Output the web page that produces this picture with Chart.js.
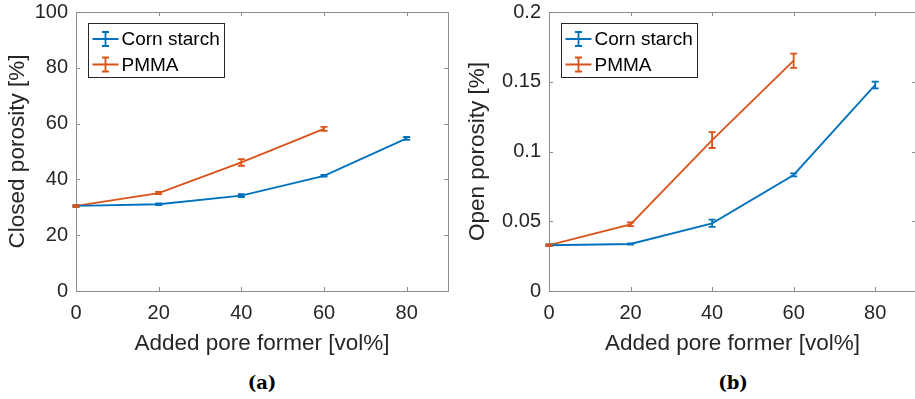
<!DOCTYPE html>
<html>
<head>
<meta charset="utf-8">
<script src="https://cdn.jsdelivr.net/npm/chart.js@4/dist/chart.umd.min.js"></script>
<style>
  html, body { margin: 0; padding: 0; background: #fff; overflow: hidden; }
  body { width: 915px; height: 399px; position: relative; }
  .panel { position: absolute; top: 0; height: 360px; }
  .cap { position: absolute; top: 372px; font: bold 18px "DejaVu Serif", serif; color: #000; transform: translateX(-50%); }
</style>
</head>
<body>
<div class="panel" style="left:0;width:460px"><canvas id="closedChart"></canvas></div>
<div class="panel" style="left:460px;width:458px"><canvas id="openChart"></canvas></div>
<div class="cap" style="left:262px">(a)</div>
<div class="cap" style="left:733px">(b)</div>
<script>
// ---- data ----
const poreFormer = [0, 20, 40, 60, 80];          // vol%
const seriesNames = ['Corn starch', 'PMMA'];

const closedCorn    = [30.5, 31.1, 34.2, 41.3, 54.7];
const closedCornErr = [0.3, 0.3, 0.5, 0.3, 0.5];
const closedPmma    = [30.5, 35.1, 46.1, 58.1];
const closedPmmaErr = [0.3, 0.4, 1.2, 0.7];

const openCorn    = [0.0328, 0.0337, 0.0485, 0.0832, 0.1477];
const openCornErr = [0.0006, 0.0004, 0.0026, 0.0011, 0.0024];
const openPmma    = [0.0328, 0.0478, 0.1082, 0.1651];
const openPmmaErr = [0.0006, 0.0013, 0.0057, 0.0051];

const BLUE = '#0072BD';
const ORANGE = '#D95319';
const TXT = '#262626';
const FONT = "'Liberation Sans', Arial, sans-serif";

function pts(ys) {
    return ys.map((y, i) => ({ x: poreFormer[i], y: y }));
}

// draws the error bars with the chart's own scales
const errorBars = {
    id: 'errorBars',
    afterDatasetsDraw(chart) {
        const ctx = chart.ctx;
        const xs = chart.scales.x, ys = chart.scales.y;
        chart.data.datasets.forEach(ds => {
            if (!ds.errors) return;
            ctx.save();
            ctx.strokeStyle = ds.borderColor;
            ctx.lineWidth = 1.8;
            ds.data.forEach((p, i) => {
                const e = ds.errors[i];
                const px = xs.getPixelForValue(p.x);
                const y1 = ys.getPixelForValue(p.y - e);
                const y2 = ys.getPixelForValue(p.y + e);
                ctx.beginPath();
                ctx.moveTo(px, y1); ctx.lineTo(px, y2);
                ctx.moveTo(px - 3.5, y1); ctx.lineTo(px + 3.5, y1);
                ctx.moveTo(px - 3.5, y2); ctx.lineTo(px + 3.5, y2);
                ctx.stroke();
            });
            ctx.restore();
        });
    }
};

// MATLAB-like box with inward ticks
const axisBox = {
    id: 'axisBox',
    beforeDatasetsDraw(chart) {
        const ctx = chart.ctx;
        const a = chart.chartArea;
        const xs = chart.scales.x, ys = chart.scales.y;
        ctx.save();
        ctx.strokeStyle = '#8c8c8c';
        ctx.lineWidth = 1;
        ctx.strokeRect(Math.round(a.left) + 0.5, Math.round(a.top) + 0.5,
            Math.round(a.right - a.left), Math.round(a.bottom - a.top));
        ctx.beginPath();
        xs.ticks.forEach(t => {
            const px = Math.round(xs.getPixelForValue(t.value)) + 0.5;
            ctx.moveTo(px, a.bottom); ctx.lineTo(px, a.bottom - 4);
            ctx.moveTo(px, a.top); ctx.lineTo(px, a.top + 4);
        });
        ys.ticks.forEach(t => {
            const py = Math.round(ys.getPixelForValue(t.value)) + 0.5;
            ctx.moveTo(a.left, py); ctx.lineTo(a.left + 4, py);
            ctx.moveTo(a.right, py); ctx.lineTo(a.right - 4, py);
        });
        ctx.stroke();
        ctx.restore();
    }
};

// legend box in the upper left corner, with error bar glyphs
const boxLegend = {
    id: 'boxLegend',
    afterDraw(chart) {
        const ctx = chart.ctx;
        const a = chart.chartArea;
        const bx = Math.round(a.left) + 12.5, by = 23.5, bw = 136, bh = 54;
        ctx.save();
        ctx.fillStyle = '#fff';
        ctx.fillRect(bx, by, bw, bh);
        ctx.strokeStyle = '#262626';
        ctx.lineWidth = 1;
        ctx.strokeRect(bx, by, bw, bh);
        ctx.font = '19px ' + FONT;
        ctx.textBaseline = 'middle';
        chart.data.datasets.forEach((ds, i) => {
            const cy = by + 15.5 + i * 25.5;
            ctx.strokeStyle = ds.borderColor;
            ctx.lineWidth = 1.8;
            ctx.beginPath();
            ctx.moveTo(bx + 4, cy); ctx.lineTo(bx + 30, cy);
            ctx.moveTo(bx + 17, cy - 7); ctx.lineTo(bx + 17, cy + 7);
            ctx.moveTo(bx + 13.5, cy - 7); ctx.lineTo(bx + 20.5, cy - 7);
            ctx.moveTo(bx + 13.5, cy + 7); ctx.lineTo(bx + 20.5, cy + 7);
            ctx.stroke();
            ctx.fillStyle = '#000';
            ctx.fillText(ds.label, bx + 33, cy + 1);
        });
        ctx.restore();
    }
};

function makeChart(id, yTitle, yMax, yStep, corn, cornErr, pmma, pmmaErr, leftW, padRight) {
    return new Chart(document.getElementById(id), {
        type: 'line',
        data: {
            datasets: [
                { label: seriesNames[0], data: pts(corn), errors: cornErr, borderColor: BLUE, borderWidth: 1.8 },
                { label: seriesNames[1], data: pts(pmma), errors: pmmaErr, borderColor: ORANGE, borderWidth: 1.8 }
            ]
        },
        options: {
            responsive: true,
            maintainAspectRatio: false,
            animation: false,
            layout: { padding: { left: 0, right: padRight, top: 12, bottom: 0 } },
            elements: { point: { radius: 0 }, line: { tension: 0 } },
            plugins: { legend: { display: false }, tooltip: { enabled: false } },
            scales: {
                x: {
                    type: 'linear', min: 0, max: 90,
                    grid: { display: false, drawTicks: false },
                    border: { display: false },
                    ticks: { stepSize: 20, includeBounds: false, color: TXT, padding: 10, maxRotation: 0,
                             font: { family: FONT, size: 20 } },
                    title: { display: true, text: 'Added pore former [vol%]', color: TXT,
                             font: { family: FONT, size: 22.5 }, padding: { top: 0, bottom: 3 } },
                    afterFit: s => { s.height = 69; s.paddingLeft = 0; s.paddingRight = 0; }
                },
                y: {
                    min: 0, max: yMax,
                    grid: { display: false, drawTicks: false },
                    border: { display: false },
                    ticks: { stepSize: yStep, color: TXT, padding: 8,
                             font: { family: FONT, size: 20 },
                             callback: v => String(+v.toFixed(4)) },
                    title: { display: true, text: yTitle, color: TXT,
                             font: { family: FONT, size: 22.5 }, padding: { top: 4, bottom: 0 } },
                    afterFit: s => { s.width = leftW; s.paddingTop = 0; s.paddingBottom = 0; }
                }
            }
        },
        plugins: [axisBox, errorBars, boxLegend]
    });
}

makeChart('closedChart', 'Closed porosity [%]', 100, 20,
    closedCorn, closedCornErr, closedPmma, closedPmmaErr, 76, 12);
makeChart('openChart', 'Open porosity [%]', 0.2, 0.05,
    openCorn, openCornErr, openPmma, openPmmaErr, 89, 2);
</script>
</body>
</html>
